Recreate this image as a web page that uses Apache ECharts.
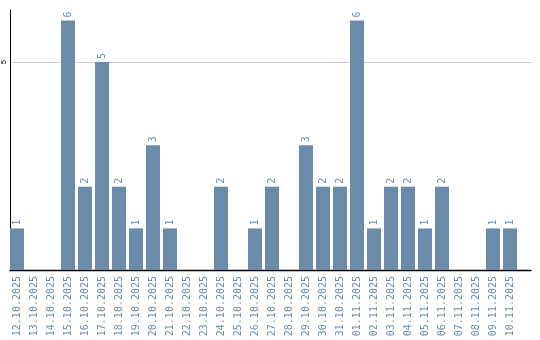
<!DOCTYPE html>
<html><head><meta charset="utf-8">
<script src="https://cdn.jsdelivr.net/npm/echarts@6/dist/echarts.min.js"></script>
<style>html,body{margin:0;padding:0;background:#fff}#c{width:540px;height:340px}</style>
</head><body><div id="c"></div>
<script>
var categories = ["12.10.2025","13.10.2025","14.10.2025","15.10.2025","16.10.2025","17.10.2025","18.10.2025","19.10.2025","20.10.2025","21.10.2025","22.10.2025","23.10.2025","24.10.2025","25.10.2025","26.10.2025","27.10.2025","28.10.2025","29.10.2025","30.10.2025","31.10.2025","01.11.2025","02.11.2025","03.11.2025","04.11.2025","05.11.2025","06.11.2025","07.11.2025","08.11.2025","09.11.2025","10.11.2025"];
var values = [1,0,0,6,2,5,2,1,3,1,0,0,2,0,1,2,0,3,2,2,6,1,2,2,1,2,0,0,1,1];
var yTicks = [5];
var color = '#6a8caa';
var chart = echarts.init(document.getElementById('c'));
chart.setOption({
  animation:false,
  grid:[
    {left:8.5,width:510,top:10,bottom:70,containLabel:false},
    {left:10,right:9,top:10,bottom:70,containLabel:false}
  ],
  xAxis:[
    {gridIndex:0,type:'category',data:categories,
      axisLine:{show:false},axisTick:{show:false},
      axisLabel:{rotate:90,interval:0,color:color,fontFamily:'DejaVu Sans Mono',fontSize:10,margin:6}},
    {gridIndex:1,type:'value',min:0,max:1,
      axisLine:{show:true,lineStyle:{color:'#000',width:1.3}},axisTick:{show:false},
      axisLabel:{show:false},splitLine:{show:false}}
  ],
  yAxis:[
    {gridIndex:0,type:'value',min:0,max:6.25,interval:5,show:false,splitLine:{show:false}},
    {gridIndex:1,type:'value',min:0,max:6.25,interval:5,
      axisLine:{show:true,lineStyle:{color:'#000',width:1}},axisTick:{show:false},
      splitLine:{show:true,showMinLine:false,showMaxLine:false,lineStyle:{color:'#ccc'}},
      axisLabel:{rotate:90,fontSize:8,color:'#000',margin:2,showMinLabel:false,showMaxLabel:false,
        formatter:function(v){return yTicks.indexOf(v)>=0?String(v):'';}}}
  ],
  series:[{type:'bar',xAxisIndex:0,yAxisIndex:0,data:values,barWidth:14,itemStyle:{color:color},
    label:{show:true,position:'top',rotate:90,align:'left',verticalAlign:'middle',distance:3,color:color,fontFamily:'DejaVu Sans Mono',fontSize:10,
      formatter:function(p){return p.value>0?String(p.value):'';}}}]
});
</script></body></html>
